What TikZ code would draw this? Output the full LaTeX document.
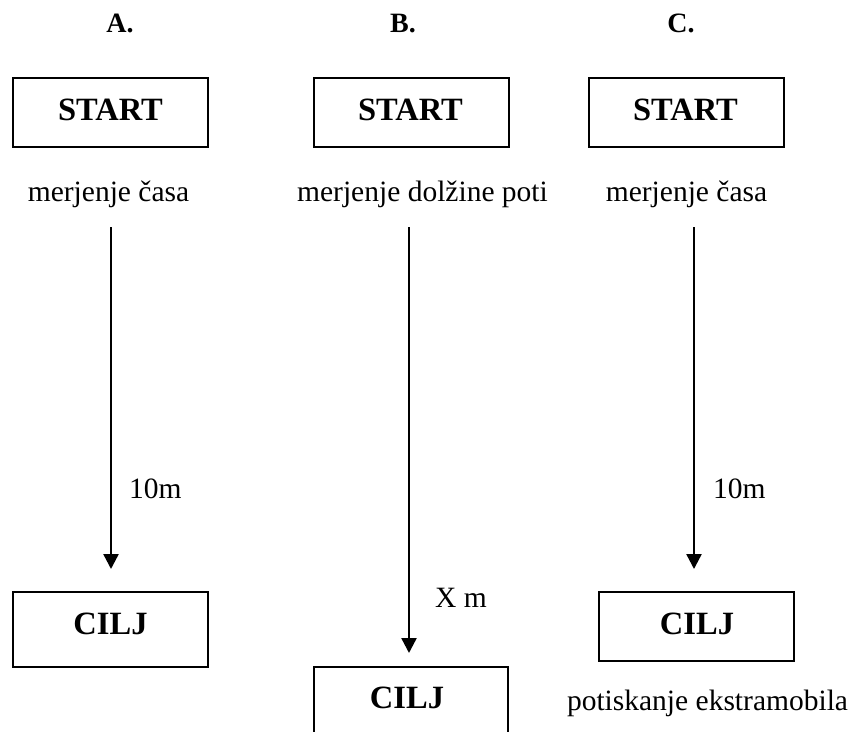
\documentclass[tikz,border=0pt]{standalone}
\usepackage{fontspec}
\setmainfont{Liberation Serif}
\usetikzlibrary{arrows.meta}
\tikzset{
  box/.style={draw=black, line width=1.8pt, fill=none, minimum width=195pt, inner sep=0pt},
  boxtext/.style={anchor=base, inner sep=0pt, font=\fontsize{32.5}{38}\selectfont\bfseries},
  lettertext/.style={anchor=base, inner sep=0pt, font=\fontsize{28}{34}\selectfont\bfseries},
  plaintext/.style={anchor=base, inner sep=0pt, font=\fontsize{29.5}{35}\selectfont},
  arr/.style={line width=2.4pt, -{Triangle[length=15pt,width=15pt]}}
}
\begin{document}
\begin{tikzpicture}[x=1pt,y=-1pt]
\useasboundingbox (0,0) rectangle (850,731);
\fill[white] (0,0) rectangle (850,731);
\begin{scope}
\clip (0,0) rectangle (850,731);

% column labels
\node[lettertext] (la) at (120,32) {A.};
\node[lettertext] (lb) at (403,32) {B.};
\node[lettertext] (lc) at (681,32) {C.};

% START boxes
\node[box, minimum height=69pt] (sa) at (110.5,112.5) {};
\node[box, minimum height=69pt] (sb) at (411.5,112.5) {};
\node[box, minimum height=69pt] (sc) at (686.5,112.5) {};
\node[boxtext] (sat) at (110.5,120) {START};
\node[boxtext] (sbt) at (410.5,120) {START};
\node[boxtext] (sct) at (685.5,120) {START};

% descriptions
\node[plaintext] (ma) at (108.5,201) {merjenje časa};
\node[plaintext] (mb) at (422.5,201) {merjenje dolžine poti};
\node[plaintext] (mc) at (686.5,201) {merjenje časa};

% arrow end points
\coordinate (a1) at (111,227);
\coordinate (a2) at (111,569);
\coordinate (b1) at (409,227);
\coordinate (b2) at (409,653);
\coordinate (c1) at (694,227);
\coordinate (c2) at (694,569);
\draw[arr] (a1) -- (a2);
\draw[arr] (b1) -- (b2);
\draw[arr] (c1) -- (c2);

% distance labels
\node[plaintext, anchor=base west] (da) at (129,498) {10m};
\node[plaintext, anchor=base west] (dc) at (713,498) {10m};
\node[plaintext, anchor=base west] (db) at (435,607) {X m};

% CILJ boxes
\node[box, minimum height=75pt] (ca) at (110.5,629.5) {};
\node[box, minimum height=69pt] (cc) at (696.5,626.5) {};
\node[box, minimum width=194pt, minimum height=100pt] (cb) at (411,717) {};
\node[boxtext] (cat) at (110.5,634) {CILJ};
\node[boxtext] (cct) at (697,634) {CILJ};
\node[boxtext] (cbt) at (407,708) {CILJ};

\node[plaintext] (pe) at (707.5,710) {potiskanje ekstramobila};
\end{scope}
\end{tikzpicture}
\end{document}
